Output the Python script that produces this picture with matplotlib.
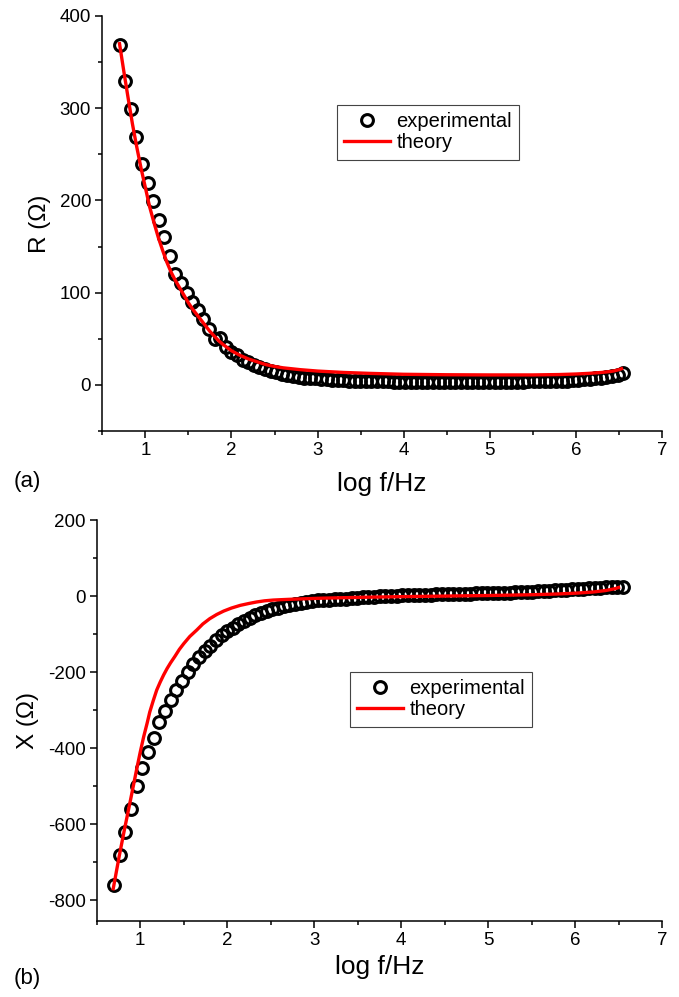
import matplotlib
matplotlib.use("Agg")
import matplotlib.pyplot as plt
from matplotlib.ticker import MultipleLocator

# ## Data
#
# Measured points share one frequency grid (log f/Hz).

log_f = [0.700, 0.765, 0.830, 0.895, 0.960, 1.025, 1.090, 1.155, 1.220, 1.285,
         1.350, 1.415, 1.480, 1.545, 1.610, 1.675, 1.740, 1.805, 1.870, 1.935,
         2.000, 2.065, 2.130, 2.195, 2.260, 2.325, 2.390, 2.455, 2.520, 2.585,
         2.650, 2.715, 2.780, 2.845, 2.910, 2.975, 3.040, 3.105, 3.170, 3.235,
         3.300, 3.365, 3.430, 3.495, 3.560, 3.625, 3.690, 3.755, 3.820, 3.885,
         3.950, 4.015, 4.080, 4.145, 4.210, 4.275, 4.340, 4.405, 4.470, 4.535,
         4.600, 4.665, 4.730, 4.795, 4.860, 4.925, 4.990, 5.055, 5.120, 5.185,
         5.250, 5.315, 5.380, 5.445, 5.510, 5.575, 5.640, 5.705, 5.770, 5.835,
         5.900, 5.965, 6.030, 6.095, 6.160, 6.225, 6.290, 6.355, 6.420, 6.485,
         6.550]

r_exp = [369, 329, 299, 269, 239, 219, 199, 179, 160, 140,
         120, 110, 100, 90, 81, 71, 61, 50, 51, 41,
         36, 32, 27, 25, 22, 19, 17, 15, 13.5, 12,
         11, 10, 9, 8, 7.5, 7, 6.5, 6, 5.5, 5.2,
         5.0, 4.7, 4.5, 4.3, 4.1, 4.0, 3.9, 3.8, 3.7, 3.6,
         3.6, 3.6, 3.6, 3.6, 3.6, 3.6, 3.6, 3.6, 3.6, 3.6,
         3.6, 3.6, 3.6, 3.6, 3.6, 3.6, 3.6, 3.6, 3.6, 3.6,
         3.6, 3.6, 3.6, 3.7, 3.7, 3.8, 3.9, 4.0, 4.2, 4.4,
         4.7, 5.0, 5.4, 5.9, 6.5, 7.2, 8.0, 8.9, 9.9, 11.0,
         12.5]

x_exp = [-760, -680, -620, -561, -500, -451, -411, -372, -332, -302,
         -274, -246, -222, -199, -179, -161, -145, -130, -116, -103,
         -92, -83, -74, -65, -56, -50, -44, -39, -34, -30,
         -26, -23, -20, -18, -15, -13, -11, -10, -9, -8,
         -7, -6, -5, -4, -3, -2, -1, 0, 0.8, 1.5,
         2, 2.5, 3, 3.5, 4, 4.3, 4.6, 5, 5.3, 5.6,
         6, 6.3, 6.6, 7, 7.3, 7.7, 8, 8.4, 8.8, 9.2,
         9.7, 10.2, 10.7, 11.3, 12, 12.7, 13.5, 14.3, 15.2, 16,
         17, 18, 19, 20, 21, 22, 23, 24, 24.5, 25,
         25]

# Theory curves
log_f_r_th = [0.70, 0.75, 0.80, 0.85, 0.90, 0.95, 1.00, 1.05, 1.10, 1.15,
              1.20, 1.25, 1.30, 1.35, 1.40, 1.45, 1.50, 1.55, 1.60, 1.65,
              1.70, 1.75, 1.80, 1.85, 1.90, 1.95, 2.00, 2.10, 2.20, 2.30,
              2.40, 2.50, 2.60, 2.80, 3.00, 3.30, 3.60, 4.00, 4.50, 5.00,
              5.50, 5.80, 6.00, 6.15, 6.30, 6.40, 6.45, 6.50, 6.53]
r_th = [370, 340, 311, 283, 258, 235, 214, 193, 176, 160,
        146, 133, 122, 113, 105, 97, 89, 82, 76, 70,
        64, 58, 53, 48, 44, 40.5, 37, 32, 28, 25,
        22, 20, 18.5, 16.5, 15, 13.5, 12.5, 11.5, 11, 10.8,
        10.8, 11.2, 11.8, 12.5, 13.5, 14.5, 15.3, 16.5, 17.5]

log_f_x_th = [0.69, 0.76, 0.82, 0.89, 0.96, 1.00, 1.04, 1.08, 1.11, 1.15,
              1.19, 1.23, 1.27, 1.31, 1.35, 1.40, 1.45, 1.50, 1.57, 1.65,
              1.72, 1.80, 1.88, 1.96, 2.05, 2.15, 2.25, 2.34, 2.43, 2.53,
              2.62, 2.72, 2.90, 3.10, 3.30, 3.60, 4.00, 4.50, 5.00, 5.50,
              5.80, 6.00, 6.20, 6.35, 6.46, 6.50]
x_th = [-770, -683, -613, -535, -455, -411, -370, -334, -305, -275,
        -247, -226, -207, -190, -175, -158, -140, -125, -106, -89,
        -73, -59, -48, -39, -31, -24, -19, -15, -12, -10,
        -9, -8, -6.5, -5, -4, -2.5, -1, 0.5, 2, 4,
        6, 8, 11, 15, 20, 23]

# ## Figure layout

plt.rcParams["font.family"] = ["Liberation Sans", "DejaVu Sans"]
plt.rcParams["axes.unicode_minus"] = False
W, H = 679, 997
fig = plt.figure(figsize=(W / 100, H / 100), dpi=100)


def px_axes(left, top, right, bottom):
    return fig.add_axes([left / W, 1 - bottom / H, (right - left) / W, (bottom - top) / H])


def style_axes(ax, ymajor, yminor):
    for side in ("top", "right"):
        ax.spines[side].set_visible(False)
    for side in ("left", "bottom"):
        ax.spines[side].set_linewidth(1.1)
    ax.xaxis.set_major_locator(MultipleLocator(1))
    ax.xaxis.set_minor_locator(MultipleLocator(0.5))
    ax.yaxis.set_major_locator(MultipleLocator(ymajor))
    ax.yaxis.set_minor_locator(MultipleLocator(yminor))
    ax.tick_params(which="major", direction="out", length=5, width=1.1, labelsize=13.5, pad=3)
    ax.tick_params(which="minor", direction="out", length=3, width=1.1)
    ax.set_xlim(0.5, 7)


def draw_panel(ax, xs, ys, xt, yt, legend_px):
    ax.plot(xs, ys, linestyle="none", marker="o", markersize=8.5,
            markerfacecolor="none", markeredgecolor="black", markeredgewidth=2.2,
            label="experimental", zorder=2)
    ax.plot(xt, yt, color="#ff0000", linewidth=2.4, label="theory", zorder=3)
    leg = ax.legend(loc="upper left", bbox_to_anchor=(legend_px[0] / W, 1 - legend_px[1] / H),
                    bbox_transform=fig.transFigure, borderaxespad=0, fontsize=14.5,
                    numpoints=1, handlelength=2.3, handletextpad=0.3, labelspacing=0.12,
                    borderpad=0.35, fancybox=False, framealpha=1)
    leg.get_frame().set_edgecolor("#444444")
    leg.get_frame().set_linewidth(0.8)


# Panel (a): resistance
ax1 = px_axes(102.3, 16, 662, 431)
style_axes(ax1, 100, 50)
ax1.set_ylim(-50, 400)
draw_panel(ax1, log_f, r_exp, log_f_r_th, r_th, (337, 105))
ax1.set_xlabel("log f/Hz", fontsize=19, labelpad=9)
ax1.set_ylabel("R (\u03a9)", fontsize=17.5, labelpad=6)

# Panel (b): reactance
ax2 = px_axes(96.7, 520.3, 662, 921)
style_axes(ax2, 200, 100)
ax2.set_ylim(-855, 200)
draw_panel(ax2, log_f, x_exp, log_f_x_th, x_th, (350, 672))
ax2.set_xlabel("log f/Hz", fontsize=19, labelpad=4)
ax2.set_ylabel("X (\u03a9)", fontsize=17.5, labelpad=6)

fig.text(14 / W, 1 - 482 / H, "(a)", fontsize=16, va="center", ha="left")
fig.text(14 / W, 1 - 978 / H, "(b)", fontsize=16, va="center", ha="left")

fig.savefig("out.png", dpi=100)
